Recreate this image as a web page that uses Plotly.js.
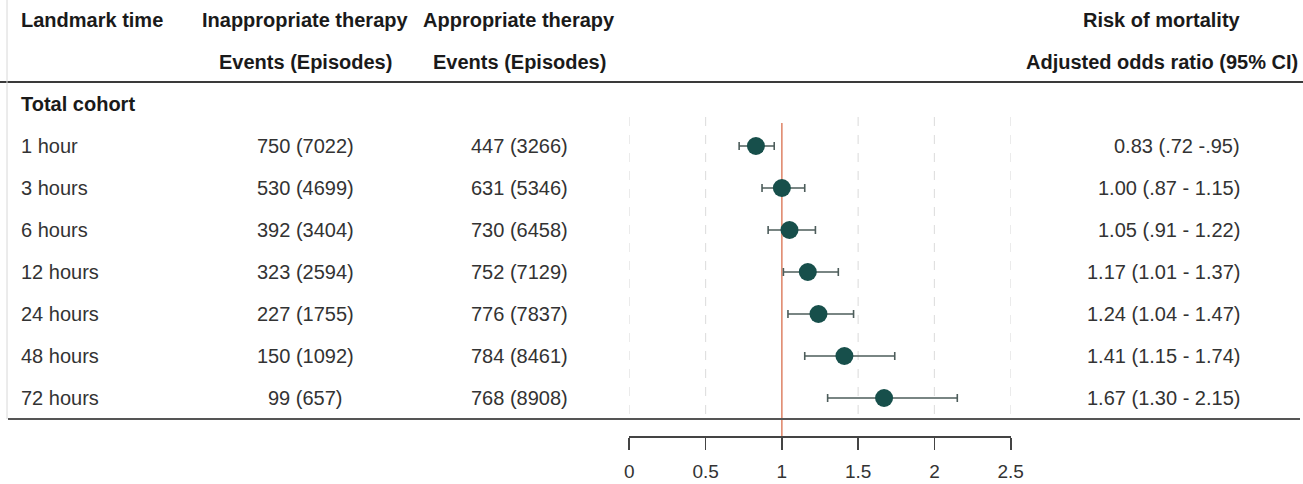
<!DOCTYPE html>
<html>
<head>
<meta charset="utf-8">
<script src="https://cdn.plot.ly/plotly-3.0.1.min.js"></script>
<style>html,body{margin:0;padding:0;background:#fff;}#chart{width:1303px;height:484px;}</style>
</head>
<body>
<div id="chart"></div>
<script>
// ---- data ----
var landmarks = ["1 hour", "3 hours", "6 hours", "12 hours", "24 hours", "48 hours", "72 hours"];
var inapEvents = [750, 530, 392, 323, 227, 150, 99];
var inapEpisodes = [7022, 4699, 3404, 2594, 1755, 1092, 657];
var apEvents = [447, 631, 730, 752, 776, 784, 768];
var apEpisodes = [3266, 5346, 6458, 7129, 7837, 8461, 8908];
var oddsRatio = [0.83, 1.00, 1.05, 1.17, 1.24, 1.41, 1.67];
var ciLow = [0.72, 0.87, 0.91, 1.01, 1.04, 1.15, 1.30];
var ciHigh = [0.95, 1.15, 1.22, 1.37, 1.47, 1.74, 2.15];
var orLabels = ["0.83 (.72 -.95)", "1.00 (.87 - 1.15)", "1.05 (.91 - 1.22)", "1.17 (1.01 - 1.37)",
                "1.24 (1.04 - 1.47)", "1.41 (1.15 - 1.74)", "1.67 (1.30 - 2.15)"];
var headers1 = ["Landmark time", "Inappropriate therapy", "Appropriate therapy", "Risk of mortality"];
var headers2 = ["", "Events (Episodes)", "Events (Episodes)", "Adjusted odds ratio (95% CI)"];
var groupLabel = "Total cohort";
var xTicks = [0, 0.5, 1, 1.5, 2, 2.5];
var xTickText = ["0", "0.5", "1", "1.5", "2", "2.5"];

// ---- layout helpers ----
var W = 1303, H = 484;
function px(p) { return p / W; }
var rows = landmarks.map(function (_, i) { return i; });
var FONT = "Liberation Sans, Arial, Helvetica, sans-serif";
var textColor = "#333333";
var headColor = "#1a1a1a";

var trace = {
  type: "scatter",
  mode: "markers",
  x: oddsRatio,
  y: rows,
  marker: { color: "#174f4b", size: 18, line: { width: 0 } },
  error_x: {
    type: "data", symmetric: false,
    array: oddsRatio.map(function (v, i) { return ciHigh[i] - v; }),
    arrayminus: oddsRatio.map(function (v, i) { return v - ciLow[i]; }),
    color: "#4d5d5b", thickness: 1.6, width: 4
  },
  hoverinfo: "skip",
  showlegend: false
};

var ann = [];
function addText(text, xPix, yVal, anchor, bold, color) {
  ann.push({
    text: bold ? "<b>" + text + "</b>" : text,
    x: px(xPix), xref: "paper", y: yVal, yref: "y",
    xanchor: anchor, yanchor: "middle", showarrow: false,
    font: { family: FONT, size: 20, color: color }
  });
}
var colX = [19, 305, 519, 1162];
var colAnchor = ["left", "center", "center", "center"];
headers1.forEach(function (h, k) { if (h) addText(h, colX[k], -3, colAnchor[k], true, headColor); });
headers2.forEach(function (h, k) { if (h) addText(h, colX[k], -2, colAnchor[k], true, headColor); });
addText(groupLabel, 19, -1, "left", true, headColor);
rows.forEach(function (r, i) {
  addText(landmarks[i], 19, r, "left", false, textColor);
  addText(inapEvents[i] + " (" + inapEpisodes[i] + ")", 305, r, "center", false, textColor);
  addText(apEvents[i] + " (" + apEpisodes[i] + ")", 519, r, "center", false, textColor);
  addText(orLabels[i], 1242, r, "right", false, textColor);
});

var shapes = [];
// dashed reference grid
[0, 0.5, 1.5, 2, 2.5].forEach(function (g) {
  shapes.push({ type: "line", xref: "x", yref: "y", x0: g, x1: g, y0: -0.69, y1: 6.5,
    line: { color: "#e0e0e0", width: 1.2, dash: "dash" }, layer: "below" });
});
// null line
shapes.push({ type: "line", xref: "x", yref: "y", x0: 1, x1: 1, y0: -0.55, y1: 6.905,
  line: { color: "#e08a6e", width: 1.6 }, layer: "below" });
// table rules
shapes.push({ type: "line", xref: "paper", yref: "y", x0: 0, x1: 1, y0: -1.524, y1: -1.524,
  line: { color: "#3a3a3a", width: 1.8 } });
shapes.push({ type: "line", xref: "paper", yref: "y", x0: px(8), x1: px(1300), y0: 6.5, y1: 6.5,
  line: { color: "#555555", width: 1.8 } });
shapes.push({ type: "line", xref: "paper", yref: "y", x0: px(7), x1: px(7), y0: -3.476, y1: 6.5,
  line: { color: "#d8d8d8", width: 1 } });

var layout = {
  width: W, height: H,
  margin: { l: 0, r: 0, t: 0, b: 0, pad: 0 },
  paper_bgcolor: "#ffffff", plot_bgcolor: "#ffffff",
  xaxis: {
    domain: [px(629.3), px(1010.7)],
    range: [0, 2.5],
    tickvals: xTicks, ticktext: xTickText,
    showgrid: false, zeroline: false,
    showline: true, linecolor: "#444444", linewidth: 1.6,
    ticks: "outside", ticklen: 12, tickwidth: 1.6, tickcolor: "#444444",
    ticklabelstandoff: 6,
    tickfont: { family: FONT, size: 19, color: textColor },
    fixedrange: true
  },
  yaxis: {
    domain: [(H - 436) / H, 1],
    range: [6.905, -3.476],
    visible: false, showgrid: false, zeroline: false, fixedrange: true
  },
  shapes: shapes,
  annotations: ann,
  showlegend: false
};

Plotly.newPlot("chart", [trace], layout, { staticPlot: true, displayModeBar: false });
</script>
</body>
</html>
